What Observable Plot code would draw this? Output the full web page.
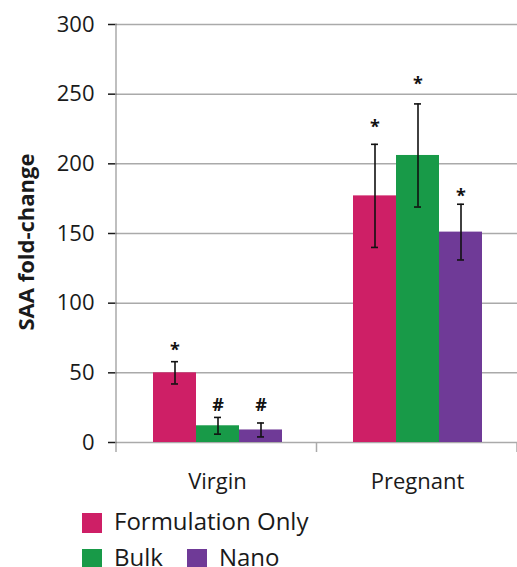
<!DOCTYPE html>
<html>
<head>
<meta charset="utf-8">
<script src="https://cdn.jsdelivr.net/npm/d3@7"></script>
<script src="https://cdn.jsdelivr.net/npm/@observablehq/plot@0.6"></script>
<style>
  body { margin: 0; background: #fff; font-family: "Open Sans", sans-serif; }
  #wrap { position: relative; width: 517px; height: 567px; overflow: hidden; background: #fff; }
  #ylabel { position: absolute; left: 25px; top: 242px; transform: translate(-50%, -50%) rotate(-90deg);
            font-weight: 700; font-size: 22px; white-space: nowrap; color: #1a1a1a; line-height: 1; }
  .lrow { position: absolute; left: 82px; display: flex; align-items: flex-start; font-size: 24px; line-height: 24px; color: #1a1a1a; }
  .sw { width: 20px; height: 20px; margin-top: 4px; margin-right: 12px; }
  .item { display: flex; align-items: flex-start; margin-right: 24px; }
  g[aria-label="y-axis"] .tick line { stroke: #aaa; stroke-width: 1.5px; }
  g[aria-label="y-axis tick"] { stroke: #aaa; stroke-width: 1.5px; }
</style>
</head>
<body>
<div id="wrap"></div>
<script>
const groups = ["Virgin", "Pregnant"];
const series = ["Formulation Only", "Bulk", "Nano"];
const colors = ["#CE1F66", "#189A48", "#6F3A97"];
const virginMeans = [50, 12, 9];
const virginErrors = [8, 6, 5];
const pregnantMeans = [177, 206, 151];
const pregnantErrors = [37, 37, 20];
const virginMarks = ["*", "#", "#"];
const pregnantMarks = ["*", "*", "*"];
const virginMarkY = [66, 27, 27];
const pregnantMarkY = [226, 257, 177];
const yTicks = [0, 50, 100, 150, 200, 250, 300];
const legendRows = [["Formulation Only"], ["Bulk", "Nano"]];

const means = [virginMeans, pregnantMeans];
const errors = [virginErrors, pregnantErrors];
const marksTxt = [virginMarks, pregnantMarks];
const marksY = [virginMarkY, pregnantMarkY];
const rows = [];
groups.forEach((g, gi) => series.forEach((s, si) => rows.push({
  group: g, series: s, value: means[gi][si], error: errors[gi][si],
  mark: marksTxt[gi][si], markY: marksY[gi][si]
})));

const chart = Plot.plot({
  width: 517,
  height: 505,
  marginLeft: 116,
  marginRight: -3,
  marginTop: 24,
  marginBottom: 63,
  style: { fontFamily: "Open Sans", fontSize: "22px", color: "#1a1a1a", background: "#fff" },
  facet: { data: rows, x: "group", marginTop: 0, marginBottom: 0, marginLeft: 0, marginRight: 0 },
  fx: { domain: groups, padding: 0, label: null, axis: "bottom", tickSize: 0, tickPadding: 31 },
  x: { domain: series, paddingInner: 0, paddingOuter: 0.78, axis: null },
  y: { domain: [0, 300], ticks: yTicks, tickSize: 9, tickPadding: 14, label: null },
  color: { domain: series, range: colors },
  marks: [
    Plot.ruleY(yTicks, { stroke: "#aaa", strokeWidth: 1.5 }),
    Plot.barY(rows, { x: "series", y: "value", fill: "series" }),
    Plot.ruleX(rows, { x: "series", y1: d => d.value - d.error, y2: d => d.value + d.error, stroke: "#111", strokeWidth: 1.6 }),
    Plot.tickY(rows, { x: "series", y: d => d.value - d.error, stroke: "#111", strokeWidth: 1.6, insetLeft: 18, insetRight: 18 }),
    Plot.tickY(rows, { x: "series", y: d => d.value + d.error, stroke: "#111", strokeWidth: 1.6, insetLeft: 18, insetRight: 18 }),
    Plot.text(rows, { x: "series", y: "markY", text: "mark", fontWeight: "bold", fontSize: 18, fill: "#111" })
  ]
});

const wrap = document.getElementById("wrap");
wrap.appendChild(chart);

// axis line and category boundary ticks, from the plot's own scales
const fxs = chart.scale("fx");
const ys = chart.scale("y");
const yLin = d3.scaleLinear(ys.domain, ys.range);
const step = (fxs.range[1] - fxs.range[0]) / fxs.domain.length;
const svg = d3.select(chart.tagName.toLowerCase() === "svg" ? chart : chart.querySelector("svg"));
const y0 = yLin(0);
svg.append("line").attr("x1", fxs.range[0]).attr("x2", fxs.range[0])
  .attr("y1", yLin(300)).attr("y2", y0 + 10).attr("stroke", "#aaa").attr("stroke-width", 1.5);
for (let i = 1; i <= fxs.domain.length; i++) {
  const x = fxs.range[0] + i * step;
  svg.append("line").attr("x1", x).attr("x2", x).attr("y1", y0).attr("y2", y0 + 10)
    .attr("stroke", "#aaa").attr("stroke-width", 1.5);
}

// y label
const yl = document.createElement("div");
yl.id = "ylabel";
yl.textContent = "SAA fold-change";
wrap.appendChild(yl);

// legend
const tops = [509, 545];
legendRows.forEach((r, ri) => {
  const row = document.createElement("div");
  row.className = "lrow";
  row.style.top = tops[ri] + "px";
  r.forEach(name => {
    const it = document.createElement("div");
    it.className = "item";
    const sw = document.createElement("div");
    sw.className = "sw";
    sw.style.background = colors[series.indexOf(name)];
    const t = document.createElement("span");
    t.textContent = name;
    it.appendChild(sw); it.appendChild(t);
    row.appendChild(it);
  });
  wrap.appendChild(row);
});
</script>
</body>
</html>
